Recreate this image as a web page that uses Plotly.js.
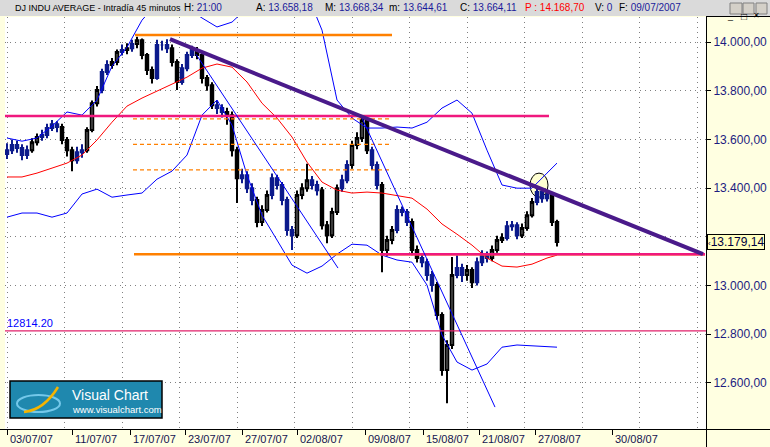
<!DOCTYPE html>
<html><head><meta charset="utf-8">
<script src="https://cdn.plot.ly/plotly-3.0.1.min.js"></script>
<style>html,body{margin:0;padding:0;background:#ffffe1;overflow:hidden}#chart{width:770px;height:447px}</style>
</head><body><div id="chart"></div>
<script>
// ---------- DATA (bar index = 45-minute bar number) ----------
const opens = [13540,13556,13577,13565,13536,13556,13589,13610,13618,13647,
13663,13651,13598,13556,13515,13548,13556,13639,13749,13803,
13877,13906,13918,13959,13967,13975,13992,14008,13947,13885,
13852,13988,13988,13975,13918,13836,13893,13947,13967,13947,
13852,13823,13741,13729,13713,13700,13556,13441,13453,13400,
13351,13261,13310,13372,13441,13413,13351,13228,13207,13372,
13400,13433,13413,13392,13248,13207,13302,13400,13433,13495,
13577,13606,13680,13556,13495,13413,13146,13187,13228,13310,
13302,13261,13146,13113,13096,13043,13002,12879,12653,12756,
13043,13072,13043,13064,13014,13096,13125,13113,13146,13187,
13195,13244,13248,13207,13236,13289,13343,13384,13359,13372,13261];
const highs = [13585,13600,13595,13580,13575,13605,13625,13640,13665,13680,
13675,13665,13610,13570,13570,13580,13650,13760,13820,13890,
13925,13935,13970,13990,13995,14010,14022,14015,13955,13900,
14010,14005,14012,13990,13930,13910,13960,13985,13980,13960,
13865,13835,13760,13745,13730,13715,13570,13480,13470,13420,
13365,13330,13390,13460,13455,13425,13365,13245,13390,13420,
13500,13450,13430,13405,13265,13320,13415,13455,13515,13595,
13630,13700,13695,13570,13510,13425,13205,13245,13330,13325,
13315,13275,13165,13130,13110,13060,13015,12890,12775,13117,
13125,13090,13085,13075,13115,13145,13140,13165,13205,13215,
13265,13265,13260,13255,13305,13360,13400,13395,13390,13380,13270];
const lows = [13520,13540,13545,13515,13520,13545,13575,13595,13605,13635,
13630,13580,13530,13470,13500,13525,13545,13630,13735,13790,
13865,13890,13905,13945,13950,13960,13975,13930,13865,13830,
13845,13965,13955,13900,13803,13825,13880,13935,13930,13830,
13800,13725,13705,13690,13660,13530,13339,13420,13380,13330,
13240,13245,13300,13355,13395,13330,13205,13146,13195,13355,
13385,13395,13370,13230,13174,13195,13290,13385,13420,13480,
13560,13590,13540,13475,13395,13055,13120,13170,13215,13285,
13245,13125,13095,13075,13020,12975,12860,12630,12517,12740,
13030,13015,13020,12990,13000,13080,13095,13100,13135,13175,
13185,13225,13190,13195,13225,13280,13330,13340,13345,13245,13160];
const closes = [13556,13577,13565,13536,13556,13589,13610,13618,13647,13663,
13651,13598,13556,13515,13548,13556,13639,13749,13803,13877,
13906,13918,13959,13967,13975,13992,14008,13947,13885,13852,
13988,13988,13975,13918,13836,13893,13947,13967,13947,13852,
13823,13741,13729,13713,13700,13556,13441,13453,13400,13351,
13261,13310,13372,13441,13413,13351,13228,13207,13372,13400,
13433,13413,13392,13248,13207,13302,13400,13433,13495,13577,
13606,13680,13556,13495,13413,13146,13187,13228,13310,13302,
13261,13146,13113,13096,13043,13002,12879,12653,12756,13043,
13072,13043,13064,13014,13096,13125,13113,13146,13187,13195,
13244,13248,13207,13236,13289,13343,13384,13359,13372,13261,13179];
// colour-state signal of each bar (1 = blue state, 0 = black state)
const signal = [1,1,1,1,1,0,0,1,1,1, 1,0,0,0,1,1,0,0,0,1,
1,0,0,1,0,1,0,0,0,0, 1,1,1,0,0,1,1,1,0,0,
0,0,1,1,0,0,0,1,1,1, 0,0,0,1,1,1,1,1,0,0,
0,1,1,0,0,0,0,1,1,0, 0,0,0,1,1,0,0,0,1,1,
1,0,0,1,1,1,0,0,0,0, 1,1,0,0,1,1,1,0,0,0,
1,1,1,0,0,0,1,1,1,0,0];

// indicators (sampled every 3 bars)
const indIdx = [0,3,6,9,12,15,18,21,24,27,30,33,36,39,42,45,48,51,54,57,60,63,66,69,72,75,78,81,84,87,90,93,96,99,102,105,108,110];
const maLine = [13446,13446,13462,13483,13503,13536,13598,13671,13737,13770,13799,13828,13856,13893,13910,13897,13836,13749,13688,13610,13507,13425,13392,13380,13384,13380,13368,13359,13314,13253,13211,13166,13113,13080,13076,13088,13113,13125];
const bandUp = [13606,13593,13606,13655,13713,13700,13762,13901,13979,14090,14160,14180,14140,14099,14062,14082,14140,14200,14230,14230,14200,14049,13762,13688,13647,13647,13651,13647,13671,13729,13762,13708,13556,13413,13400,13400,13462,13503];
const bandLow = [13281,13298,13298,13281,13298,13376,13396,13363,13372,13380,13437,13470,13536,13700,13762,13659,13454,13289,13187,13084,13051,13080,13129,13170,13166,13125,13105,13096,13002,12797,12686,12653,12678,12747,12756,12752,12747,12747];

// drawn studies: [bar0, bar1], [price0, price1]
const mainTrendBars = [32.6, 139.2], mainTrendPrices = [14012, 13129];
const fastTrend1Bars = [37.8, 66.2], fastTrend1Prices = [13950, 13072];
const fastTrend2Bars = [71.0, 97.6], fastTrend2Prices = [13688, 12501];
const topLevelBars = [25.6, 77.0], topLevel = 14029;
const baseLevelBars = [25.4, 139.6], baseLevel = 13129;
const resistBars = [-0.4, 108.4], resistLevel = 13696;
const supportBars = [74.6, 139.6], supportLevel = 13129;
const fiboBars = [25.2, 76.6], fiboLevels = [13685, 13580, 13475];
const refLevel = 12814.20, refLevelText = '12814.20';
const circleBars = [104.6, 108.2], circlePrices = [13363, 13462];
const lastPrice = 13179.14, lastPriceText = '13.179,14';

const dateBars = [0,13,24.6,35.6,47,58,71.6,83.2,94.4,105.6,121];
const dateLabels = ['03/07/07','11/07/07','17/07/07','23/07/07','27/07/07','02/08/07','09/08/07','15/08/07','21/08/07','27/08/07','30/08/07'];
const priceTicks = [12600,12800,13000,13200,13400,13600,13800,14000];
const priceTickText = ['12.600,00','12.800,00','13.000,00','','13.400,00','13.600,00','13.800,00','14.000,00'];

const headerItems = [
  ['', 'DJ INDU AVERAGE - Intradía 45 minutos', 13],
  ['H: ', '21:00', 182], ['A: ', '13.658,18', 254], ['M: ', '13.668,34', 323],
  ['m: ', '13.644,61', 387], ['C: ', '13.664,11', 458], ['P : ', '14.168,70', 523],
  ['V: ', '0', 593], ['F: ', '09/07/2007', 617]];

// ---------- BUILD ----------
const bars = opens.map((_, k) => k);
function sub(arr, flag) { return arr.filter((_, k) => signal[k] === flag); }
const FONT = 'Liberation Sans, Arial, sans-serif';
const NAVY = '#0c1a8c';

const traces = [];
traces.push({type:'candlestick', x:sub(bars,0), open:sub(opens,0), high:sub(highs,0), low:sub(lows,0), close:sub(closes,0),
  increasing:{line:{color:'#000000',width:2}, fillcolor:'#ffffff'},
  decreasing:{line:{color:'#000000',width:2}, fillcolor:'#000000'}, whiskerwidth:0, hoverinfo:'skip'});
traces.push({type:'candlestick', x:sub(bars,1), open:sub(opens,1), high:sub(highs,1), low:sub(lows,1), close:sub(closes,1),
  increasing:{line:{color:NAVY,width:2}, fillcolor:NAVY},
  decreasing:{line:{color:NAVY,width:2}, fillcolor:NAVY}, whiskerwidth:0, hoverinfo:'skip'});
const ln = (x, y, color, width, dash) => ({type:'scatter', mode:'lines', x, y, line:{color, width, dash: dash||'solid'}, hoverinfo:'skip', cliponaxis:true});
traces.push(ln(indIdx, bandUp, '#0000ff', 1));
traces.push(ln(indIdx, bandLow, '#0000ff', 1));
traces.push(ln(indIdx, maLine, '#ff0000', 1));
fiboLevels.forEach(v => traces.push(ln(fiboBars, [v, v], '#ff8000', 1.3, '4px,3px')));
traces.push(ln(topLevelBars, [topLevel, topLevel], '#ff8000', 2.5));
traces.push(ln(baseLevelBars, [baseLevel, baseLevel], '#ff8000', 2.5));
traces.push(ln(supportBars, [supportLevel, supportLevel], '#f0187e', 2.5));
traces.push(ln(resistBars, [resistLevel, resistLevel], '#f0187e', 2.5));
traces.push(ln([-0.4, 139.8], [refLevel, refLevel], '#e0206a', 1.3));
traces.push(ln(fastTrend1Bars, fastTrend1Prices, '#0000ff', 1));
traces.push(ln(fastTrend2Bars, fastTrend2Prices, '#0000ff', 1));
traces.push(ln(mainTrendBars, mainTrendPrices, '#4a1a8a', 4));

const PX = x => (x - 5) / 701, PY = y => (429 - y) / 412;
const shapes = [
  {type:'circle', xref:'x', yref:'y', x0:circleBars[0], x1:circleBars[1], y0:circlePrices[0], y1:circlePrices[1], fillcolor:'#ffffd2', line:{color:'#000', width:1}, layer:'below'},
  {type:'rect', xref:'paper', yref:'paper', x0:PX(0), x1:PX(770), y0:PY(16), y1:PY(0), fillcolor:'#dadada', line:{width:0}},
  {type:'line', xref:'paper', yref:'paper', x0:PX(706), x1:PX(770), y0:PY(16.5), y1:PY(16.5), line:{color:'#000', width:1}},
  {type:'line', xref:'paper', yref:'paper', x0:PX(0), x1:PX(770), y0:PY(429.5), y1:PY(429.5), line:{color:'#000', width:1}},
  {type:'line', xref:'paper', yref:'paper', x0:PX(706.5), x1:PX(706.5), y0:PY(429), y1:PY(447), line:{color:'#000', width:1}},
  {type:'rect', xref:'paper', yref:'paper', x0:PX(730), x1:PX(742), y0:PY(14), y1:PY(3), fillcolor:'#d4d0c8', line:{color:'#808080', width:1}},
  {type:'rect', xref:'paper', yref:'paper', x0:PX(743), x1:PX(754), y0:PY(14), y1:PY(3), fillcolor:'#d4d0c8', line:{color:'#808080', width:1}},
  {type:'rect', xref:'paper', yref:'paper', x0:PX(756), x1:PX(767), y0:PY(14), y1:PY(3), fillcolor:'#d4d0c8', line:{color:'#808080', width:1}},
  {type:'rect', xref:'paper', yref:'paper', x0:PX(10), x1:PX(162), y0:PY(418), y1:PY(381), fillcolor:'#1f88ae', line:{color:'#000', width:1.5}},
  {type:'circle', xref:'paper', yref:'paper', x0:PX(17), x1:PX(60), y0:PY(412), y1:PY(395), line:{color:'#74c8ea', width:2}},
  {type:'path', xref:'paper', yref:'paper', path:`M ${PX(24)} ${PY(412)} Q ${PX(44)} ${PY(410)} ${PX(58)} ${PY(387)}`, line:{color:'#f5b400', width:2.5}}
];

const hdrY = PY(8);
const annotations = headerItems.map(([lab, val, x], k) => ({
  xref:'paper', yref:'paper', x:PX(x), y:hdrY, xanchor:'left', yanchor:'middle', showarrow:false,
  text: k === 0 ? val : (lab.startsWith('P') ? `<span style="color:#ff0000">${lab}${val}</span>` : `${lab}<span style="color:#1a1a9a">${val}</span>`),
  font:{family:FONT, size: k === 0 ? 9 : 10, color:'#000'}}));
dateLabels.forEach((t, k) => annotations.push({xref:'x', yref:'paper', x:dateBars[k], y:PY(439), xanchor:'left', yanchor:'middle', xshift:1,
  text:t, showarrow:false, font:{family:FONT, size:11, color:'#141450'}}));
annotations.push(
  {xref:'paper', yref:'paper', x:PX(736), y:PY(9), text:'_', showarrow:false, font:{family:FONT, size:9, color:'#000'}},
  {xref:'paper', yref:'paper', x:PX(748.5), y:PY(8.5), text:'□', showarrow:false, font:{family:FONT, size:10, color:'#000'}},
  {xref:'paper', yref:'paper', x:PX(761.5), y:PY(8.5), text:'✕', showarrow:false, font:{family:FONT, size:8, color:'#000'}},
  {xref:'x', yref:'y', x:-0.4, y:refLevel, xanchor:'left', yanchor:'bottom', yshift:0, text:refLevelText, showarrow:false, font:{family:FONT, size:11, color:'#0000ff'}},
  {xref:'paper', yref:'y', x:1, y:lastPrice, xanchor:'left', yanchor:'middle', xshift:1, text:'<span style="font-size:8px">‹</span>' + lastPriceText, showarrow:false,
    bgcolor:'#ffffc0', bordercolor:'#000', borderwidth:1, borderpad:0, font:{family:FONT, size:12, color:'#000040'}},
  {xref:'paper', yref:'paper', x:PX(70), y:PY(395), xanchor:'left', yanchor:'middle', text:'Visual Chart', showarrow:false, font:{family:FONT, size:14, color:'#ffffff'}},
  {xref:'paper', yref:'paper', x:PX(70), y:PY(409), xanchor:'left', yanchor:'middle', text:'www.visualchart.com', showarrow:false, font:{family:FONT, size:9.5, color:'#ffffff'}}
);

const layout = {
  width:770, height:447, margin:{l:5, r:64, t:17, b:18, pad:0},
  paper_bgcolor:'#ffffe1', plot_bgcolor:'#ffffff', showlegend:false, dragmode:false,
  xaxis:{range:[-0.4, 139.8], fixedrange:true, rangeslider:{visible:false}, zeroline:false, showgrid:false,
    showline:false, tickmode:'array', tickvals:dateBars, ticktext:dateLabels.map(() => ''), ticks:'outside', ticklen:5, tickcolor:'#000',
    minor:{tick0:0, dtick:11.5, showgrid:true, gridcolor:'#808080', griddash:'1px,4px', gridwidth:1, ticks:''}},
  yaxis:{side:'right', range:[12411, 14103], fixedrange:true, zeroline:false, tickmode:'array', tickvals:priceTicks, ticktext:priceTickText,
    showgrid:true, gridcolor:'#808080', griddash:'1px,4px', gridwidth:1, showline:true, linecolor:'#000', linewidth:1,
    ticks:'outside', ticklen:4, tickcolor:'#000', tickfont:{family:FONT, size:12, color:'#1c1c80'}},
  shapes, annotations
};
Plotly.newPlot('chart', traces, layout, {staticPlot:true, displayModeBar:false});
</script></body></html>
